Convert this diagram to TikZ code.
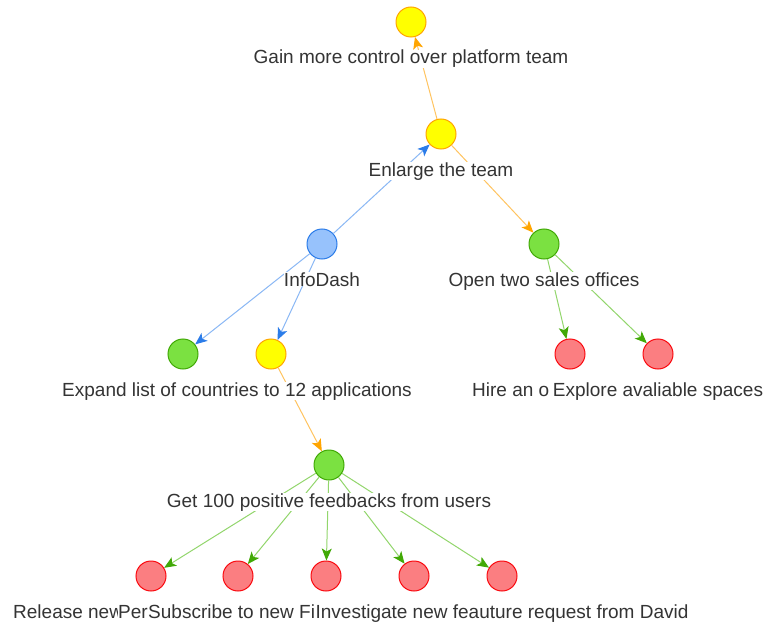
\documentclass[tikz,border=0pt]{standalone}
\usepackage{fontspec}
\setmainfont{Liberation Sans}
\usetikzlibrary{arrows.meta}
\definecolor{txt}{HTML}{343434}
\definecolor{yfill}{HTML}{FFFF00}
\definecolor{yborder}{HTML}{FFA500}
\definecolor{bfill}{HTML}{97C2FC}
\definecolor{bborder}{HTML}{2B7CE9}
\definecolor{gfill}{HTML}{7BE141}
\definecolor{gborder}{HTML}{41A906}
\definecolor{rfill}{HTML}{FB7E81}
\definecolor{rborder}{HTML}{FA0A10}
\definecolor{yline}{HTML}{FFC460}
\definecolor{bline}{HTML}{8AB8F5}
\definecolor{gline}{HTML}{92D66C}
\tikzset{
  goal/.style={circle, minimum size=30pt, inner sep=0pt, line width=1pt},
  ygoal/.style={goal, fill=yfill, draw=yborder},
  bgoal/.style={goal, fill=bfill, draw=bborder},
  ggoal/.style={goal, fill=gfill, draw=gborder},
  rgoal/.style={goal, fill=rfill, draw=rborder},
  lbl/.style={font=\fontsize{19}{22}\selectfont, text=txt, inner sep=0pt, fill=white, anchor=base},
  lblw/.style={lbl, anchor=base west},
  yedge/.style={draw=yline, line width=1pt, -{Stealth[length=12pt,width=10pt,inset=3pt,color=yborder]}},
  bedge/.style={draw=bline, line width=1pt, -{Stealth[length=12pt,width=10pt,inset=3pt,color=bborder]}},
  gedge/.style={draw=gline, line width=1pt, -{Stealth[length=12pt,width=10pt,inset=3pt,color=gborder]}}
}
\begin{document}
\begin{tikzpicture}[x=1pt,y=-1pt]
\useasboundingbox (0,0) rectangle (766,623);
\fill[white] (0,0) rectangle (766,623);
% nodes
\node[ygoal] (gain) at (411,22) {};
\node[ygoal] (enlarge) at (441,134) {};
\node[bgoal] (info) at (322,244) {};
\node[ggoal] (open) at (544,244) {};
\node[ggoal] (expand) at (183,354) {};
\node[ygoal] (apps) at (271,354) {};
\node[rgoal] (hire) at (570,354) {};
\node[rgoal] (explore) at (658,354) {};
\node[ggoal] (get) at (329,465) {};
\node[rgoal] (r1) at (151,576) {};
\node[rgoal] (r2) at (238,576) {};
\node[rgoal] (r3) at (326,576) {};
\node[rgoal] (r4) at (414,576) {};
\node[rgoal] (r5) at (502,576) {};
% edges
\draw[yedge] (enlarge) -- (gain);
\draw[bedge] (info) -- (enlarge);
\draw[yedge] (enlarge) -- (open);
\draw[bedge] (info) -- (expand);
\draw[bedge] (info) -- (apps);
\draw[yedge] (apps) -- (get);
\draw[gedge] (open) -- (hire);
\draw[gedge] (open) -- (explore);
\draw[gedge] (get) -- (r1);
\draw[gedge] (get) -- (r2);
\draw[gedge] (get) -- (r3);
\draw[gedge] (get) -- (r4);
\draw[gedge] (get) -- (r5);
% labels
\node[lbl] (lgain) at (411,64) {Gain more control over platform team};
\node[lbl] (lenlarge) at (441,176) {Enlarge the team};
\node[lbl] (linfo) at (322,286) {InfoDash};
\node[lbl] (lopen) at (544,286) {Open two sales offices};
\node[lblw] (lexpand) at (62,396) {Expand list of countries to 12 applications};
\node[lblw] (lhire) at (472,396) {Hire an o};
\node[lbl] (lexplore) at (658,396) {Explore avaliable spaces};
\node[lbl] (lget) at (329,507) {Get 100 positive feedbacks from users};
\node[lblw] (lr1) at (13,618) {Release new};
\node[lblw] (lr2) at (118,618) {Per};
\node[lblw] (lr3) at (148,618) {Subscribe to new Fi};
\node[lbl] (lr5) at (502,618) {Investigate new feauture request from David};
\end{tikzpicture}
\end{document}
